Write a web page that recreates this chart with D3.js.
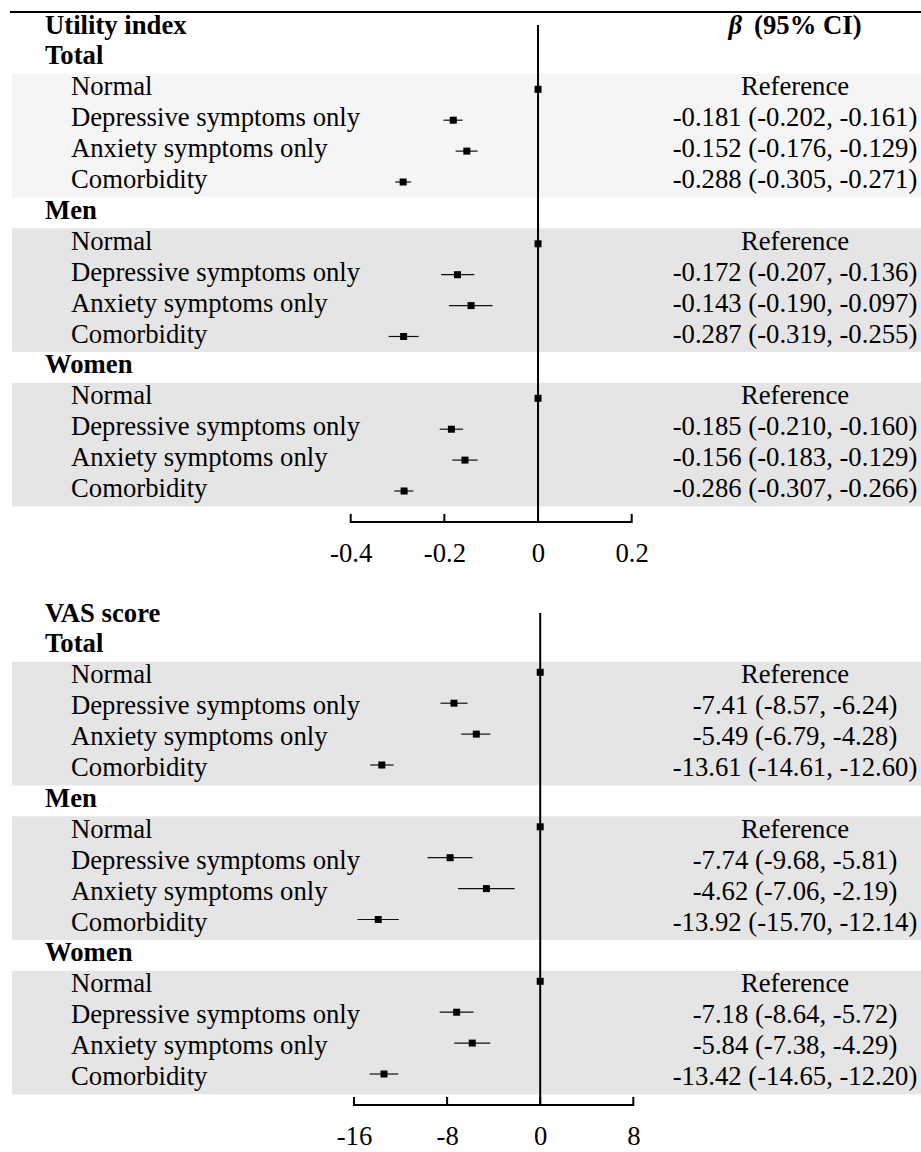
<!DOCTYPE html>
<html>
<head>
<meta charset="utf-8">
<script src="https://cdn.jsdelivr.net/npm/d3@7"></script>
<style>
  html, body { margin: 0; padding: 0; background: #ffffff; }
  svg text { font-family: "Liberation Serif", "Times New Roman", serif; fill: #000; }
</style>
</head>
<body>
<div id="chart"></div>
<script>
// ---------------- data ----------------
const groups = ["Total", "Men", "Women"];
const categories = ["Normal", "Depressive symptoms only", "Anxiety symptoms only", "Comorbidity"];

const utilBeta  = [[0, -0.181, -0.152, -0.288], [0, -0.172, -0.143, -0.287], [0, -0.185, -0.156, -0.286]];
const utilLower = [[0, -0.202, -0.176, -0.305], [0, -0.207, -0.190, -0.319], [0, -0.210, -0.183, -0.307]];
const utilUpper = [[0, -0.161, -0.129, -0.271], [0, -0.136, -0.097, -0.255], [0, -0.160, -0.129, -0.266]];

const vasBeta  = [[0, -7.41, -5.49, -13.61], [0, -7.74, -4.62, -13.92], [0, -7.18, -5.84, -13.42]];
const vasLower = [[0, -8.57, -6.79, -14.61], [0, -9.68, -7.06, -15.70], [0, -8.64, -7.38, -14.65]];
const vasUpper = [[0, -6.24, -4.28, -12.60], [0, -5.81, -2.19, -12.14], [0, -5.72, -4.29, -12.20]];

const utilTicks = [-0.4, -0.2, 0, 0.2];
const vasTicks = [-16, -8, 0, 8];
const utilTickLabels = ["-0.4", "-0.2", "0", "0.2"];
const vasTickLabels = ["-16", "-8", "0", "8"];

// ---------------- layout ----------------
const W = 921, H = 1152;
const svg = d3.select("#chart").append("svg").attr("width", W).attr("height", H);

const FS = 26.7;
const STEP = 30.9;

const panels = [
  {
    title: "Utility index", beta: utilBeta, lower: utilLower, upper: utilUpper,
    dec: 3, ticks: utilTicks, tickLabels: utilTickLabels,
    domain: [-0.4, 0.2], range: [350.7, 631.7],
    top0: 12, pointOff: 15.5, bands: ["#f5f5f5", "#e5e5e5", "#e5e5e5"], header: true
  },
  {
    title: "VAS score", beta: vasBeta, lower: vasLower, upper: vasUpper,
    dec: 2, ticks: vasTicks, tickLabels: vasTickLabels,
    domain: [-16, 8], range: [354, 633.3],
    top0: 600, pointOff: 10.5, bands: ["#e5e5e5", "#e5e5e5", "#e5e5e5"], header: false
  }
];

const fmt = (v, d) => v.toFixed(d);

// top rule
svg.append("line").attr("x1", 10).attr("x2", W).attr("y1", 12).attr("y2", 12)
  .attr("stroke", "#000").attr("stroke-width", 2);

panels.forEach(p => {
  const rowTop = d3.scaleLinear().domain([0, 1]).range([p.top0, p.top0 + STEP]);
  const x = d3.scaleLinear().domain(p.domain).range(p.range);
  const baseOff = 21.5;

  const g = svg.append("g");

  // bands
  groups.forEach((grp, gi) => {
    const r0 = 2 + gi * 5;
    g.append("rect")
      .attr("x", 12).attr("width", W - 12)
      .attr("y", rowTop(r0)).attr("height", rowTop(r0 + 4) - rowTop(r0))
      .attr("fill", p.bands[gi]);
  });

  // title
  g.append("text").attr("x", 45).attr("y", rowTop(0) + baseOff)
    .attr("font-size", FS).attr("font-weight", "bold").text(p.title);

  if (p.header) {
    const t = g.append("text").attr("x", 795).attr("y", rowTop(0) + baseOff)
      .attr("text-anchor", "middle").attr("font-size", FS).attr("font-weight", "bold");
    t.append("tspan").attr("font-style", "italic").text("β");
    t.append("tspan").text("\u00a0\u2009(95% CI)");
  }

  const axisY = rowTop(16) + p.pointOff;

  // vertical reference line at 0
  g.append("line").attr("x1", x(0)).attr("x2", x(0))
    .attr("y1", rowTop(0) + 13).attr("y2", axisY)
    .attr("stroke", "#000").attr("stroke-width", 2);

  groups.forEach((grp, gi) => {
    const rh = 1 + gi * 5;
    g.append("text").attr("x", 45).attr("y", rowTop(rh) + baseOff)
      .attr("font-size", FS).attr("font-weight", "bold").text(grp);

    categories.forEach((cat, ci) => {
      const r = rh + 1 + ci;
      const yb = rowTop(r) + baseOff;
      const yp = rowTop(r) + p.pointOff;
      g.append("text").attr("x", 71).attr("y", yb).attr("font-size", FS).text(cat);

      const b = p.beta[gi][ci], lo = p.lower[gi][ci], hi = p.upper[gi][ci];
      const label = (ci === 0) ? "Reference"
        : `${fmt(b, p.dec)} (${fmt(lo, p.dec)}, ${fmt(hi, p.dec)})`;
      g.append("text").attr("x", 795).attr("y", yb).attr("text-anchor", "middle")
        .attr("font-size", FS).text(label);

      if (ci > 0) {
        g.append("line").attr("x1", x(lo)).attr("x2", x(hi)).attr("y1", yp).attr("y2", yp)
          .attr("stroke", "#111").attr("stroke-width", 1.2);
      }
      const s = 7;
      g.append("rect").attr("x", x(b) - s / 2).attr("y", yp - s / 2)
        .attr("width", s).attr("height", s).attr("fill", "#000");
    });
  });

  // x axis
  const axis = d3.axisBottom(x).tickValues(p.ticks).tickSize(0)
    .tickFormat((d, i) => p.tickLabels[i]);
  const ag = g.append("g").attr("transform", `translate(0,${axisY})`).call(axis);
  ag.select(".domain").remove();
  ag.selectAll(".tick line").remove();
  ag.selectAll(".tick text").attr("font-size", FS).attr("font-family", "Liberation Serif")
    .attr("fill", "#000").attr("dy", null).attr("y", 40);
  g.append("line").attr("x1", x(p.domain[0])).attr("x2", x(p.domain[1]))
    .attr("y1", axisY).attr("y2", axisY).attr("stroke", "#000").attr("stroke-width", 2);
  p.ticks.forEach(t => {
    g.append("line").attr("x1", x(t)).attr("x2", x(t))
      .attr("y1", axisY - 8).attr("y2", axisY + 1)
      .attr("stroke", "#000").attr("stroke-width", 2);
  });
});
</script>
</body>
</html>
